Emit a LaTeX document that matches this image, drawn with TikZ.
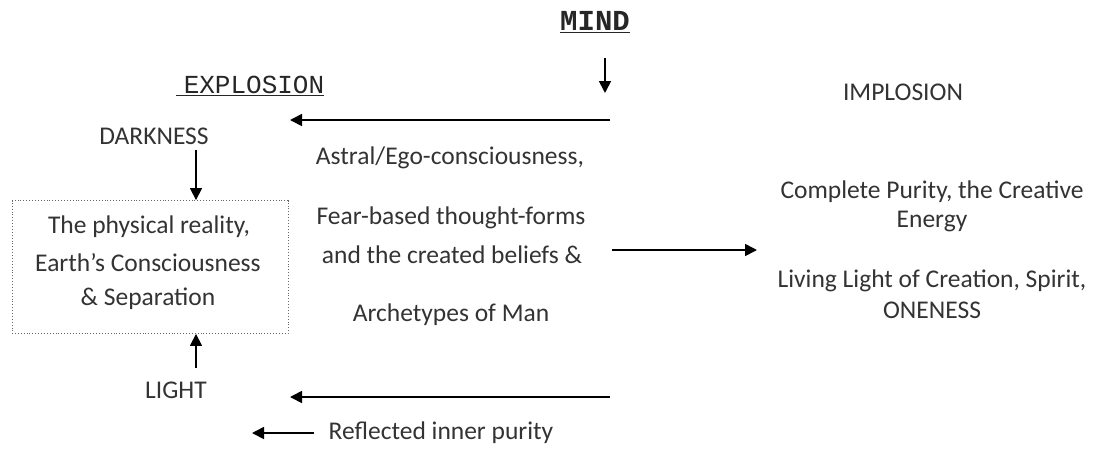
\documentclass[tikz,border=0pt]{standalone}
\usepackage{fontspec}
\setmainfont{Carlito}
\newfontfamily\monof{Liberation Mono}
\usetikzlibrary{arrows.meta}
\tikzset{
  txt/.style={inner sep=0pt, text=black!80, font=\fontsize{25.5}{31}\selectfont},
  mono/.style={inner sep=0pt, text=black!85, font=\monof\fontsize{26}{30}\selectfont},
  arr/.style={line width=1.7pt, -{Triangle[length=12pt,width=12pt]}},
  dotbox/.style={draw=black!60, dotted, line width=0.9pt}
}
\begin{document}
\begin{tikzpicture}[x=1pt,y=-1pt]
\useasboundingbox (0,0) rectangle (1093,448);
% headings
\node[mono, font=\monof\bfseries\fontsize{29}{32}\selectfont] (mind) at (595,22) {\underline{MIND}};
\node[mono] (expl) at (250,86) {\underline{\hspace{8pt}EXPLOSION}};
\node[txt] (impl) at (903,92) {IMPLOSION};
\node[txt] (dark) at (154,136) {DARKNESS};
\node[txt] (light) at (176,390) {LIGHT};
% box
\node[dotbox, minimum width=276pt, minimum height=133pt, inner sep=0pt] (box) at (150,267) {};
\node[txt] (b1) at (149,227) {The physical reality,};
\node[txt] (b2) at (148,263) {Earth’s Consciousness};
\node[txt] (b3) at (148,299) {\& Separation};
% middle
\node[txt] (m1) at (450,158) {Astral/Ego-consciousness,};
\node[txt] (m2) at (451,218) {Fear-based thought-forms};
\node[txt] (m3) at (452,255) {and the created beliefs \&};
\node[txt] (m4) at (451,315) {Archetypes of Man};
% right
\node[txt] (r1) at (932,192) {Complete Purity, the Creative};
\node[txt] (r2) at (932,222) {Energy};
\node[txt] (r3) at (932,281) {Living Light of Creation, Spirit,};
\node[txt] (r4) at (932,310) {ONENESS};
\node[txt] (refl) at (441,433) {Reflected inner purity};
% coordinates
\coordinate (mindA) at (605,58);
\coordinate (mindB) at (605,93);
\coordinate (topR) at (610,120);
\coordinate (topL) at (290,120);
\coordinate (darkA) at (196,150);
\coordinate (lightA) at (196,368);
\coordinate (midA) at (612,250);
\coordinate (midB) at (757,250);
\coordinate (botR) at (610,397);
\coordinate (botL) at (290,397);
\coordinate (reflA) at (314,433);
\coordinate (reflB) at (252,433);
% arrows
\draw[arr] (mindA) -- (mindB);
\draw[arr] (topR) -- (topL);
\draw[arr] (darkA) -- (darkA |- box.north);
\draw[arr] (lightA) -- (lightA |- box.south);
\draw[arr] (midA) -- (midB);
\draw[arr] (botR) -- (botL);
\draw[arr] (reflA) -- (reflB);
\end{tikzpicture}
\end{document}
